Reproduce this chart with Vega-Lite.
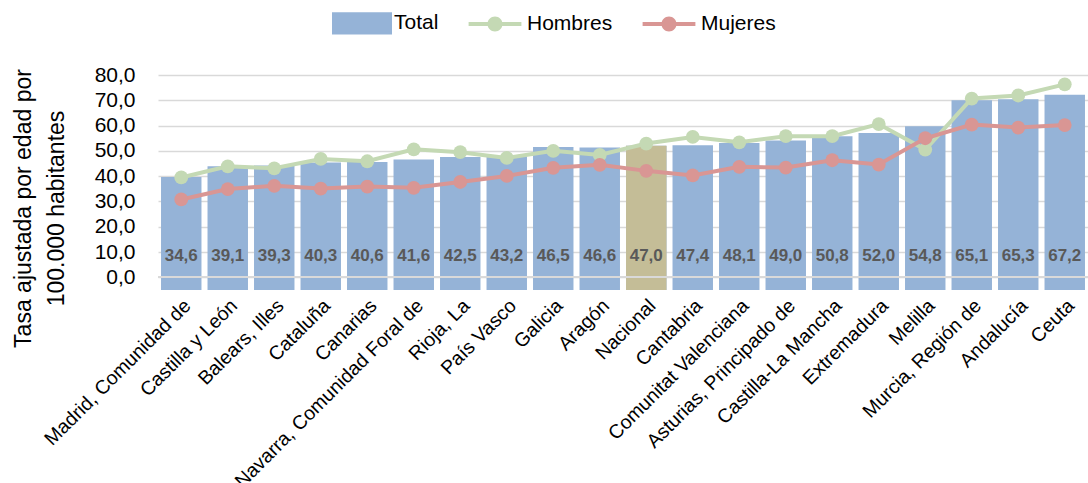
{
  "$schema": "https://vega.github.io/schema/vega-lite/v6.json",
  "autosize": {"type": "none"},
  "padding": {"left": 158, "top": 75, "right": 0, "bottom": 193},
  "width": 930,
  "height": 215,
  "data": {
    "values": [
      {"region": "Madrid, Comunidad de", "total": 39.7, "hombres": 39.5, "mujeres": 30.8, "etiqueta": 34.6},
      {"region": "Castilla y León", "total": 43.9, "hombres": 43.9, "mujeres": 34.9, "etiqueta": 39.1},
      {"region": "Balears, Illes", "total": 44.2, "hombres": 43.1, "mujeres": 36.2, "etiqueta": 39.3},
      {"region": "Cataluña", "total": 45.4, "hombres": 46.8, "mujeres": 35.1, "etiqueta": 40.3},
      {"region": "Canarias", "total": 45.6, "hombres": 45.9, "mujeres": 35.9, "etiqueta": 40.6},
      {"region": "Navarra, Comunidad Foral de", "total": 46.6, "hombres": 50.6, "mujeres": 35.4, "etiqueta": 41.6},
      {"region": "Rioja, La", "total": 47.6, "hombres": 49.5, "mujeres": 37.7, "etiqueta": 42.5},
      {"region": "País Vasco", "total": 47.9, "hombres": 47.2, "mujeres": 40.1, "etiqueta": 43.2},
      {"region": "Galicia", "total": 51.5, "hombres": 50.0, "mujeres": 43.3, "etiqueta": 46.5},
      {"region": "Aragón", "total": 51.3, "hombres": 48.4, "mujeres": 44.5, "etiqueta": 46.6},
      {"region": "Nacional", "total": 52.0, "hombres": 52.9, "mujeres": 42.1, "etiqueta": 47.0},
      {"region": "Cantabria", "total": 52.2, "hombres": 55.5, "mujeres": 40.3, "etiqueta": 47.4},
      {"region": "Comunitat Valenciana", "total": 53.1, "hombres": 53.4, "mujeres": 43.7, "etiqueta": 48.1},
      {"region": "Asturias, Principado de", "total": 54.1, "hombres": 55.8, "mujeres": 43.4, "etiqueta": 49.0},
      {"region": "Castilla-La Mancha", "total": 55.8, "hombres": 55.8, "mujeres": 46.3, "etiqueta": 50.8},
      {"region": "Extremadura", "total": 57.1, "hombres": 60.6, "mujeres": 44.6, "etiqueta": 52.0},
      {"region": "Melilla", "total": 59.7, "hombres": 50.5, "mujeres": 55.0, "etiqueta": 54.8},
      {"region": "Murcia, Región de", "total": 70.0, "hombres": 70.7, "mujeres": 60.4, "etiqueta": 65.1},
      {"region": "Andalucía", "total": 70.4, "hombres": 71.9, "mujeres": 59.2, "etiqueta": 65.3},
      {"region": "Ceuta", "total": 72.2, "hombres": 76.3, "mujeres": 60.2, "etiqueta": 67.2}
    ]
  },
  "layer": [
    {
      "mark": {"type": "bar"},
      "encoding": {
        "x": {
          "field": "region",
          "type": "nominal",
          "sort": null,
          "scale": {"paddingInner": 0.13, "paddingOuter": 0.065},
          "axis": {
            "title": null,
            "labelAngle": -45,
            "labelFontSize": 19.5,
            "labelColor": "#000000",
            "labelPadding": 6,
            "ticks": false,
            "domain": false,
            "grid": false,
            "labelOverlap": false,
            "labelLimit": 400
          }
        },
        "y": {
          "field": "total",
          "type": "quantitative",
          "scale": {"domain": [-5, 80], "nice": false, "zero": false},
          "axis": {
            "title": ["Tasa ajustada por edad por", "100.000 habitantes"],
            "titleFontSize": 23,
            "titleFontWeight": "normal",
            "titleColor": "#000000",
            "titleAngle": -90,
            "titleAlign": "center",
            "titleBaseline": "alphabetic",
            "titleLineHeight": 33,
            "titleX": -128,
            "titleY": 133,
            "values": [0, 10, 20, 30, 40, 50, 60, 70, 80],
            "tickCount": 9,
            "format": ".1f",
            "labelFontSize": 21,
            "labelColor": "#000000",
            "labelPadding": 23,
            "labelOverlap": false,
            "labelBound": false,
            "ticks": false,
            "domain": false,
            "grid": true,
            "gridColor": "#D9D9D9",
            "gridWidth": 1.5
          }
        },
        "y2": {"datum": -5},
        "color": {
          "datum": "Total",
          "type": "nominal",
          "scale": {
            "domain": ["Total", "Hombres", "Mujeres"],
            "range": ["#95B3D7", "#C4D9B4", "#D99694"]
          },
          "legend": {
            "title": null,
            "orient": "none",
            "direction": "horizontal",
            "legendX": 174,
            "legendY": -82,
            "padding": 0,
            "symbolSize": 3600,
            "symbolStrokeWidth": 0,
            "labelFontSize": 21,
            "labelColor": "#000000",
            "labelOffset": 2,
            "columnPadding": 26,
            "encode": {
              "symbols": {
                "update": {
                  "shape": {"signal": "datum.value === 'Total' ? 'M-1,-0.37H1V0.37H-1Z' : 'M-0.88,-0.067H0.88V0.067H-0.88Z M0.25,0A0.25,0.25 0 1,1 -0.25,0A0.25,0.25 0 1,1 0.25,0Z'"},
                  "fill": {"signal": "scale('color', datum.value)"},
                  "fillOpacity": {"value": 1},
                  "strokeWidth": {"value": 0}
                }
              }
            }
          }
        }
      }
    },
    {
      "transform": [{"filter": "datum.region === 'Nacional'"}],
      "mark": {"type": "bar", "color": "#C4BD97"},
      "encoding": {
        "x": {"field": "region", "type": "nominal", "sort": null},
        "y": {"field": "total", "type": "quantitative"},
        "y2": {"datum": -5}
      }
    },
    {
      "mark": {"type": "rule", "color": "#D9D9D9", "strokeWidth": 1.5},
      "encoding": {"y": {"datum": 0}}
    },
    {
      "mark": {"type": "text", "fontWeight": "bold", "fontSize": 17, "color": "#595959", "baseline": "middle"},
      "encoding": {
        "x": {"field": "region", "type": "nominal", "sort": null},
        "y": {"datum": 8.5},
        "text": {"field": "etiqueta", "type": "quantitative", "format": ".1f"}
      }
    },
    {
      "mark": {"type": "line", "strokeWidth": 4, "point": {"filled": true, "size": 190, "opacity": 1}},
      "encoding": {
        "x": {"field": "region", "type": "nominal", "sort": null},
        "y": {"field": "hombres", "type": "quantitative"},
        "color": {"datum": "Hombres", "type": "nominal"}
      }
    },
    {
      "mark": {"type": "line", "strokeWidth": 4, "point": {"filled": true, "size": 190, "opacity": 1}},
      "encoding": {
        "x": {"field": "region", "type": "nominal", "sort": null},
        "y": {"field": "mujeres", "type": "quantitative"},
        "color": {"datum": "Mujeres", "type": "nominal"}
      }
    }
  ],
  "config": {
    "font": "Liberation Sans",
    "view": {"stroke": null},
    "locale": {
      "number": {"decimal": ",", "thousands": ".", "grouping": [3], "currency": ["", " €"]}
    }
  }
}
